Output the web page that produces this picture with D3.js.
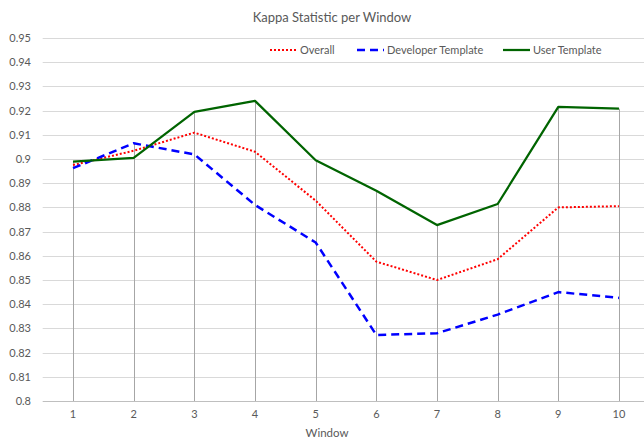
<!DOCTYPE html>
<html>
<head>
<meta charset="utf-8">
<script src="https://cdn.jsdelivr.net/npm/d3@7"></script>
<style>
  body { margin: 0; background: #fff; }
  text { font-family: Lato, "Open Sans", sans-serif; fill: #595959; }
</style>
</head>
<body>
<div id="chart"></div>
<script>
const windows = [1, 2, 3, 4, 5, 6, 7, 8, 9, 10];
const overall = [0.8975, 0.9034, 0.9109, 0.9030, 0.8828, 0.8576, 0.8500, 0.8586, 0.8800, 0.8805];
const developer = [0.8962, 0.9065, 0.9019, 0.8810, 0.8655, 0.8273, 0.8280, 0.8357, 0.8450, 0.8426];
const user = [0.8989, 0.9005, 0.9195, 0.9240, 0.8995, 0.8869, 0.8727, 0.8814, 0.9215, 0.9208];
const yTicks = [0.8, 0.81, 0.82, 0.83, 0.84, 0.85, 0.86, 0.87, 0.88, 0.89, 0.9, 0.91, 0.92, 0.93, 0.94, 0.95];

const series = [
  { name: "Overall", values: overall, color: "#ff0000", width: 2, dash: "2,2" },
  { name: "Developer Template", values: developer, color: "#0000ff", width: 2.5, dash: "8,5" },
  { name: "User Template", values: user, color: "#006400", width: 2.25, dash: null }
];

const width = 644, height = 439;

const svg = d3.select("#chart")
  .append("svg")
  .attr("width", width)
  .attr("height", height);

const x = d3.scaleBand()
  .domain(windows)
  .range([42.7, 649.3]);

const y = d3.scaleLinear()
  .domain([0.8, 0.95])
  .range([401, 38]);

const cx = d => x(d) + x.bandwidth() / 2;

// horizontal gridlines
svg.selectAll(".grid")
  .data(yTicks)
  .enter()
  .append("line")
  .attr("x1", 42.7)
  .attr("x2", width)
  .attr("y1", d => Math.round(y(d)) + 0.5)
  .attr("y2", d => Math.round(y(d)) + 0.5)
  .attr("stroke", d => d === 0.8 ? "#bfbfbf" : "#d9d9d9")
  .attr("stroke-width", 1);

// drop lines from highest value down to the axis
svg.selectAll(".drop")
  .data(windows)
  .enter()
  .append("line")
  .attr("x1", d => Math.round(cx(d)) + 0.5)
  .attr("x2", d => Math.round(cx(d)) + 0.5)
  .attr("y1", (d, i) => y(d3.max(series, s => s.values[i])))
  .attr("y2", y(0.8))
  .attr("stroke", "#a6a6a6")
  .attr("stroke-width", 1);

// y tick labels
svg.selectAll(".ylab")
  .data(yTicks)
  .enter()
  .append("text")
  .attr("x", 31)
  .attr("y", d => y(d) + 4)
  .attr("text-anchor", "end")
  .style("font-size", "11px")
  .text(d => String(+d.toFixed(2)));

// x tick labels
svg.selectAll(".xlab")
  .data(windows)
  .enter()
  .append("text")
  .attr("x", d => cx(d))
  .attr("y", 418)
  .attr("text-anchor", "middle")
  .style("font-size", "11px")
  .text(d => d);

svg.append("text")
  .attr("x", 327)
  .attr("y", 437)
  .attr("text-anchor", "middle")
  .style("font-size", "11.5px")
  .text("Window");

svg.append("text")
  .attr("x", 332)
  .attr("y", 22)
  .attr("text-anchor", "middle")
  .style("font-size", "13px")
  .text("Kappa Statistic per Window");

// series lines
const line = d3.line()
  .x((d, i) => cx(windows[i]))
  .y(d => y(d));

svg.selectAll(".series")
  .data(series)
  .enter()
  .append("path")
  .attr("d", d => line(d.values))
  .attr("fill", "none")
  .attr("stroke", d => d.color)
  .attr("stroke-width", d => d.width)
  .attr("stroke-dasharray", d => d.dash)
  .attr("stroke-linejoin", "round");

// legend
const legendX = [270, 357, 503];
const legend = svg.selectAll(".legend")
  .data(series)
  .enter()
  .append("g")
  .attr("transform", (d, i) => `translate(${legendX[i]},50)`);

legend.append("line")
  .attr("x1", 0)
  .attr("x2", 27)
  .attr("stroke", d => d.color)
  .attr("stroke-width", d => d.width)
  .attr("stroke-dasharray", d => d.dash);

legend.append("text")
  .attr("x", 30)
  .attr("y", 4)
  .style("font-size", "11px")
  .text(d => d.name);
</script>
</body>
</html>
